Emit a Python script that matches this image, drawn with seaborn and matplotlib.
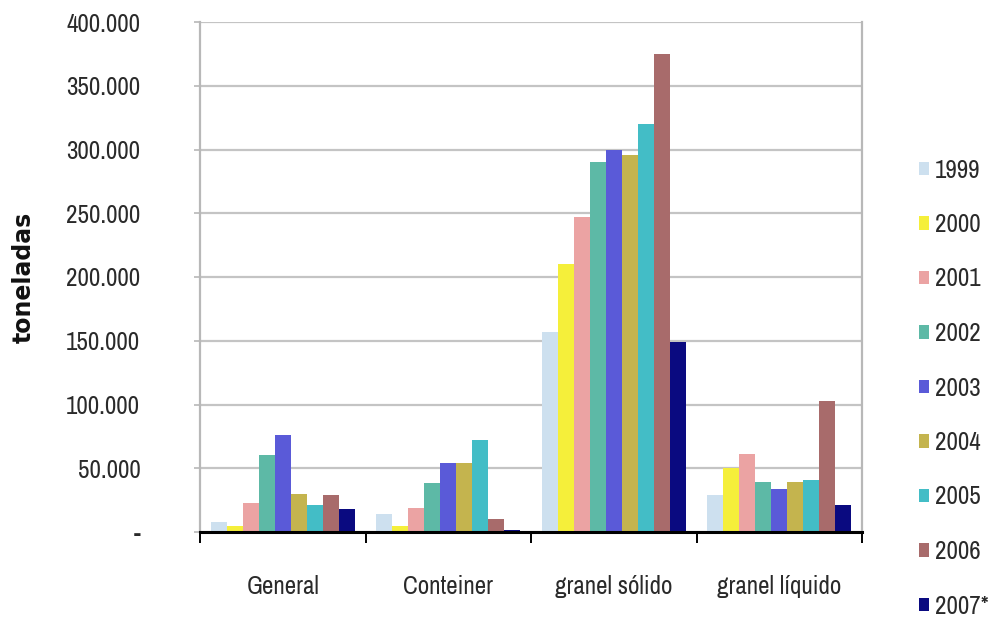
import matplotlib
matplotlib.use("Agg")
import matplotlib.pyplot as plt
import seaborn as sns
import pandas as pd

# Carga movida por tipo (toneladas), 1999-2007*
categories = ["General", "Conteiner", "granel sólido", "granel líquido"]
years = ["1999", "2000", "2001", "2002", "2003", "2004", "2005", "2006", "2007*"]

general = [8000, 5000, 23000, 60500, 76000, 30000, 21000, 29000, 18000]
conteiner = [14500, 5000, 19000, 38500, 54500, 54500, 72500, 10500, 1500]
granel_solido = [157000, 210000, 247000, 290000, 300000, 296000, 320000, 375000, 149000]
granel_liquido = [29000, 50500, 61500, 39000, 33500, 39000, 41000, 103000, 21000]

y_ticks = [0, 50000, 100000, 150000, 200000, 250000, 300000, 350000, 400000]

year_colors = ["#cde0ef", "#f5ef3a", "#eba3a3", "#5db9a6", "#5a5ad8",
               "#c4b44e", "#43bdc6", "#a86b6b", "#0a0a80"]

series = [general, conteiner, granel_solido, granel_liquido]
rows = []
for cat, vals in zip(categories, series):
    for yr, v in zip(years, vals):
        rows.append({"tipo": cat, "ano": yr, "toneladas": v})
df = pd.DataFrame(rows)

sns.set_theme(style="white")
narrow = ["Archivo Narrow", "PT Sans Narrow", "Roboto Condensed",
          "IBM Plex Sans Condensed", "DejaVu Sans"]
plt.rcParams["font.family"] = narrow

fig = plt.figure(figsize=(9.92, 6.26), dpi=100)
ax = fig.add_axes([200 / 992, 1 - 532 / 626, 662 / 992, 510 / 626])

sns.barplot(data=df, x="tipo", y="toneladas", hue="ano", order=categories,
            hue_order=years, palette=year_colors, width=0.87, saturation=1,
            linewidth=0, errorbar=None, ax=ax, zorder=3)

ax.set_xlim(-0.5, len(categories) - 0.5)
ax.set_ylim(0, 400000)

# grid and frame
ax.set_yticks(y_ticks)
ax.set_yticklabels(["-" if v == 0 else f"{v:,.0f}".replace(",", ".") for v in y_ticks])
ax.yaxis.grid(True, color="#c4c4c4", linewidth=1.6, zorder=0)
ax.xaxis.grid(False)
ax.set_axisbelow(True)
for side in ("left", "right"):
    ax.spines[side].set_visible(True)
    ax.spines[side].set_color("#b8b8b8")
    ax.spines[side].set_linewidth(1.6)
ax.spines["top"].set_visible(False)
ax.spines["bottom"].set_color("black")
ax.spines["bottom"].set_linewidth(2.2)
ax.spines["bottom"].set_zorder(5)

ax.tick_params(axis="y", which="major", left=True, length=4, width=1.2,
               color="#b8b8b8", pad=39, labelsize=18, labelcolor="#2a2a2a")
ax.set_xticks(range(len(categories)))
ax.set_xticklabels(categories)
ax.set_xticks([i - 0.5 for i in range(len(categories) + 1)], minor=True)
ax.tick_params(axis="x", which="major", bottom=False, length=0, pad=31,
               labelsize=18, labelcolor="#2a2a2a")
ax.tick_params(axis="x", which="minor", bottom=True, length=8, width=1.4,
               color="black", direction="out")

ax.set_xlabel("")
ax.set_ylabel("toneladas", fontsize=17, fontweight="bold",
              family=["DejaVu Sans"], labelpad=0, color="#111111")
ax.yaxis.set_label_coords(-164 / 662, 0.5)

# legend at the right, one year per row
handles, labels = ax.get_legend_handles_labels()
ax.get_legend().remove()
fig.legend(handles, labels, loc="upper left",
           bbox_to_anchor=(906 / 992, 1 - 146 / 626), frameon=False,
           fontsize=18, labelspacing=1.26, handlelength=0.42,
           handleheight=0.45, handletextpad=0.25, borderpad=0,
           labelcolor="#2a2a2a")

fig.savefig("out.png", dpi=100, facecolor="white")
